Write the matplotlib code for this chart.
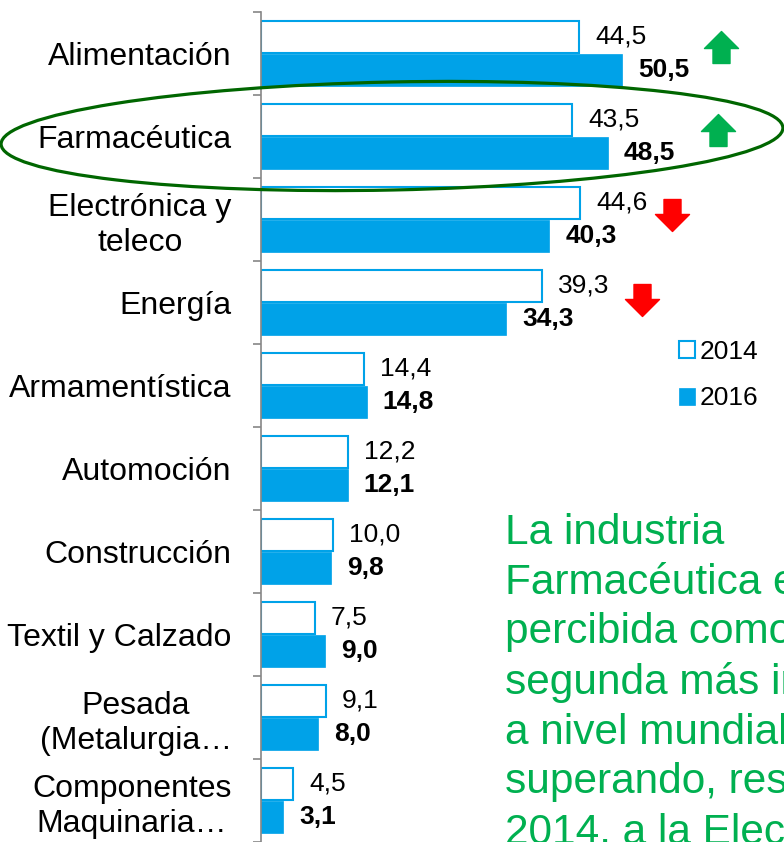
import numpy as np
import matplotlib
matplotlib.use('Agg')
import matplotlib.pyplot as plt
from matplotlib.patches import Ellipse
from matplotlib.path import Path

plt.rcParams['font.family'] = ['Liberation Sans', 'DejaVu Sans']

# data
sectors = ['Alimentación', 'Farmacéutica', 'Electrónica y\nteleco', 'Energía',
           'Armamentística', 'Automoción', 'Construcción', 'Textil y Calzado',
           'Pesada\n(Metalurgia…', 'Componentes\nMaquinaria…']
vals_2014 = [44.5, 43.5, 44.6, 39.3, 14.4, 12.2, 10.0, 7.5, 9.1, 4.5]
vals_2016 = [50.5, 48.5, 40.3, 34.3, 14.8, 12.1, 9.8, 9.0, 8.0, 3.1]
series_names = ['2014', '2016']

blue = '#00A2E8'
fig = plt.figure(figsize=(7.84, 8.42), dpi=100)
ax = fig.add_axes([261/784, 0.0, 1 - 261/784, 1 - 12/842])

y = np.arange(len(sectors))
h = 0.39
b14 = ax.barh(y - 0.2, vals_2014, height=h, color='white', edgecolor=blue,
              linewidth=1.5, label=series_names[0])
b16 = ax.barh(y + 0.2, vals_2016, height=h, color=blue, edgecolor=blue,
              linewidth=0.5, label=series_names[1])

for yi, v in zip(y, vals_2014):
    ax.annotate(f'{v:.1f}'.replace('.', ','), (v, yi - 0.2), xytext=(11.5, 0),
                textcoords='offset points', va='center', ha='left', fontsize=19)
for yi, v in zip(y, vals_2016):
    ax.annotate(f'{v:.1f}'.replace('.', ','), (v, yi + 0.2), xytext=(11.5, 0),
                textcoords='offset points', va='center', ha='left', fontsize=19,
                fontweight='bold')

ax.set_xlim(0, 73.1)
ax.set_ylim(9.5, -0.5)
ax.set_yticks(y)
ax.set_yticklabels(sectors, fontsize=23, multialignment='center')
ax.set_yticks(np.arange(-0.5, 10, 1), minor=True)
ax.tick_params(axis='y', which='major', length=0, pad=21)
ax.tick_params(axis='y', which='minor', length=5.5, width=1.2, color='#868686',
               direction='out')
ax.set_xticks([])
for s in ['top', 'right', 'bottom']:
    ax.spines[s].set_visible(False)
ax.spines['left'].set_color('#868686')
ax.spines['left'].set_linewidth(1.2)

# arrows showing change
up = Path([(0, 0.94), (1, -0.06), (0.5, -0.06), (0.5, -0.94), (-0.5, -0.94),
           (-0.5, -0.06), (-1, -0.06), (0, 0.94)],
          [Path.MOVETO] + [Path.LINETO] * 6 + [Path.CLOSEPOLY])
down = Path(up.vertices * np.array([1, -1]), up.codes)
ax.plot([64.3, 63.9], [-0.08, 0.92], linestyle='none', marker=up,
        markersize=24.5, color='#00B050', clip_on=False)
ax.plot([57.5, 53.3], [1.95, 2.97], linestyle='none', marker=down,
        markersize=24.5, color='#FF0000', clip_on=False)

leg = ax.legend(handles=[b14, b16], frameon=False, fontsize=19,
                loc='upper left', bbox_to_anchor=(679/784, 1 - 340/842),
                bbox_transform=fig.transFigure, handlelength=0.6,
                handleheight=0.6, handletextpad=0.2, labelspacing=0.85,
                borderpad=0, borderaxespad=0)

# highlight Farmacéutica
ell = Ellipse((3.92, 8.42 - 1.36), 7.82, 1.08, angle=1.2, fill=False,
              edgecolor='#006600', linewidth=2.3, transform=fig.dpi_scale_trans)
fig.patches.append(ell)

fig.text(505/784, 1 - 513/842,
         'La industria\nFarmacéutica es\npercibida como la\nsegunda más importante\n'
         'a nivel mundial,\nsuperando, respecto a\n2014, a la Electrónica y teleco',
         fontsize=30.5, color='#00B050', va='top', ha='left', linespacing=1.31)

plt.savefig('out.png', dpi=100)
